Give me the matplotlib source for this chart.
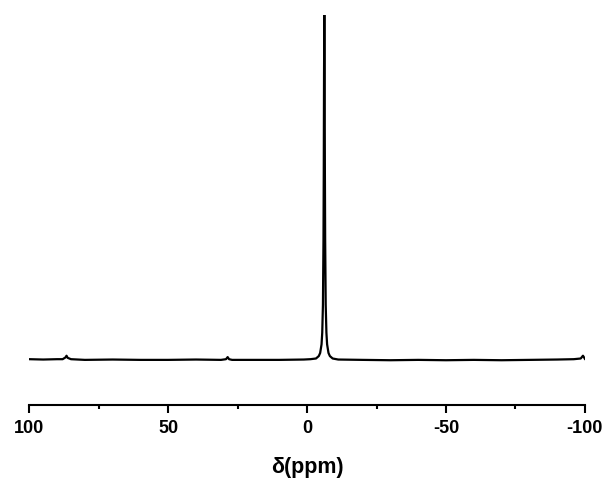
import numpy as np
from matplotlib import pyplot as plt

plt.rcParams['font.family'] = ['Liberation Sans', 'DejaVu Sans']

# spectrum (ppm, intensity; peak = 100)
ppm = [100, 95, 90, 88, 87, 86.6, 86.2, 85, 80, 70, 60, 50, 40, 31, 29.2, 28.6, 28.1, 27, 20, 10,
       1.2, -1.2, -3.2, -4.2, -4.7, -5.2, -5.45, -5.7, -5.9, -6.0, -6.1, -6.2,
       -6.3, -6.4, -6.5, -6.7, -6.95, -7.2, -7.7, -8.2, -9.2, -11.2,
       -20, -30, -40, -50, -60, -70, -80, -90, -96, -98.5, -99.3, -99.7, -100]
intensity = [0.3, 0.2, 0.3, 0.3, 0.8, 1.3, 0.7, 0.3, 0.1, 0.2, 0.1, 0.1, 0.2, 0.1, 0.3, 0.9, 0.3, 0.1, 0.1, 0.1,
             0.2, 0.3, 0.5, 1.2, 2.1, 4.6, 8, 16, 35, 55, 83, 100,
             83, 55, 35, 16, 8, 4.6, 2.1, 1.2, 0.5, 0.2,
             0.1, 0.0, 0.1, 0.0, 0.1, 0.0, 0.1, 0.2, 0.3, 0.5, 1.3, 0.8, 0.4]

ticks = [100, 50, 0, -50, -100]
minor = [75, 25, -25, -75]

fig = plt.figure(figsize=(6.08, 4.8), dpi=100)
ax = fig.add_axes([0.0482, 0.156, 0.9138, 0.813])

ax.plot(ppm, intensity, color='black', lw=1.6)
ax.set_xlim(100, -100)
ax.set_ylim(-13, 100)

for s in ['top', 'right', 'left']:
  ax.spines[s].set_visible(False)
ax.spines['bottom'].set_linewidth(1.5)
ax.set_yticks([])
ax.set_xticks(ticks)
ax.set_xticklabels([str(t) for t in ticks], fontweight='bold', fontsize=13)
ax.set_xticks(minor, minor=True)
ax.tick_params(axis='x', which='major', direction='out', length=6, width=1.5, pad=5)
ax.tick_params(axis='x', which='minor', direction='out', length=3, width=1.5)
ax.set_xlabel('δ(ppm)', fontweight='bold', fontsize=15.5, labelpad=14)

fig.savefig('out.png', dpi=100)
